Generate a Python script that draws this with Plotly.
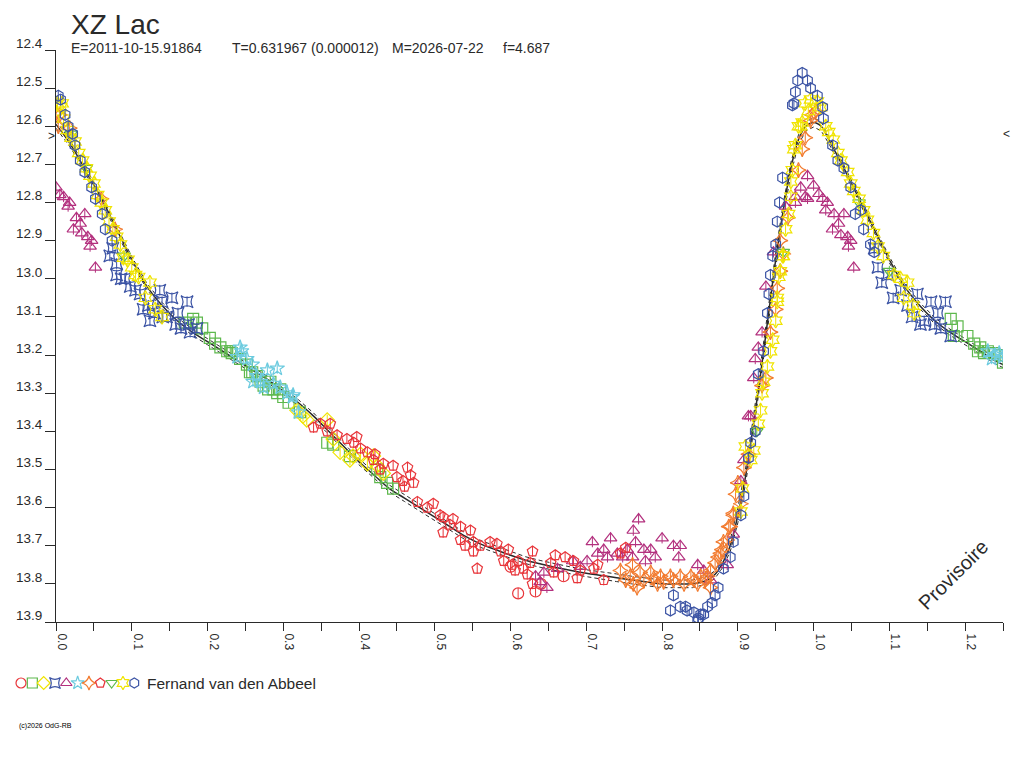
import plotly.graph_objects as go

# light curve of XZ Lac, phase vs V magnitude

fit_phase = [0.00, 0.02, 0.04, 0.06, 0.08, 0.10, 0.12, 0.14, 0.16, 0.18, 0.20, 0.22, 0.24, 0.26,
             0.28, 0.30, 0.32, 0.34, 0.36, 0.38, 0.40, 0.42, 0.44, 0.46, 0.48, 0.50, 0.52, 0.54,
             0.56, 0.58, 0.60, 0.62, 0.64, 0.66, 0.68, 0.70, 0.72, 0.74, 0.76, 0.78, 0.80, 0.82,
             0.84, 0.86, 0.87, 0.88, 0.89, 0.90, 0.91, 0.92, 0.93, 0.94, 0.95, 0.96, 0.97, 0.98,
             0.99, 1.00, 1.01, 1.02, 1.04, 1.06, 1.08, 1.10, 1.12, 1.14, 1.16, 1.18, 1.20, 1.22,
             1.24, 1.25]
fit_mag = [12.595, 12.65, 12.72, 12.79, 12.87, 12.95, 13.02, 13.07, 13.11, 13.14, 13.165, 13.19,
           13.215, 13.24, 13.265, 13.295, 13.325, 13.36, 13.40, 13.44, 13.48, 13.515, 13.55,
           13.575, 13.60, 13.625, 13.65, 13.675, 13.695, 13.71, 13.725, 13.738, 13.748, 13.757,
           13.765, 13.772, 13.778, 13.784, 13.79, 13.795, 13.80, 13.80, 13.80, 13.79, 13.775,
           13.745, 13.70, 13.62, 13.52, 13.39, 13.25, 13.10, 12.95, 12.82, 12.71, 12.635, 12.60,
           12.59, 12.60, 12.635, 12.71, 12.79, 12.87, 12.95, 13.02, 13.07, 13.11, 13.14, 13.165,
           13.19, 13.215, 13.225]
fit_err = [0.010, 0.008, 0.008, 0.008, 0.008, 0.008, 0.008, 0.008, 0.008, 0.008, 0.008, 0.008,
           0.008, 0.008, 0.008, 0.008, 0.008, 0.008, 0.008, 0.008, 0.008, 0.008, 0.009, 0.009,
           0.009, 0.009, 0.009, 0.009, 0.009, 0.009, 0.009, 0.009, 0.009, 0.009, 0.009, 0.009,
           0.010, 0.010, 0.010, 0.010, 0.010, 0.010, 0.010, 0.010, 0.010, 0.012, 0.015, 0.020,
           0.020, 0.020, 0.020, 0.020, 0.020, 0.018, 0.015, 0.012, 0.012, 0.012, 0.012, 0.010,
           0.008, 0.008, 0.008, 0.008, 0.008, 0.008, 0.008, 0.008, 0.008, 0.008, 0.008, 0.008]

circ_red_phase = [0.600, 0.610, 0.633, 0.640, 0.670]
circ_red_mag = [13.755, 13.825, 13.820, 13.800, 13.780]

sq_grn_phase = [0.170, 0.181, 0.186, 0.193, 0.203, 0.210, 0.217, 0.226, 0.230, 0.232, 0.243,
                0.252, 0.256, 0.259, 0.265, 0.270, 0.274, 0.280, 0.283, 0.287, 0.292, 0.296,
                0.300, 0.307, 0.322, 0.358, 0.366, 0.388, 0.424, 0.428, 0.437, 0.445,
                1.181, 1.185, 1.190, 1.203, 1.212, 1.217, 1.220, 1.225, 1.230, 1.238, 1.247, 1.250]
sq_grn_mag = [13.115, 13.105, 13.115, 13.130, 13.155, 13.170, 13.180, 13.190, 13.190, 13.195,
              13.210, 13.225, 13.245, 13.245, 13.255, 13.270, 13.280, 13.290, 13.270, 13.290,
              13.300, 13.290, 13.310, 13.325, 13.350, 13.430, 13.435, 13.465, 13.500, 13.520,
              13.535, 13.550,
              13.105, 13.150, 13.125, 13.150, 13.170, 13.190, 13.180, 13.195, 13.190, 13.195,
              13.200, 13.220]

dia_yel_phase = [0.318, 0.326, 0.331, 0.358, 0.366, 0.375, 0.388, 0.392, 0.402, 0.411, 0.419,
                 0.424, 0.432]
dia_yel_mag = [13.345, 13.360, 13.370, 13.370, 13.420, 13.455, 13.475, 13.465, 13.460, 13.485,
               13.465, 13.490, 13.510]

sqs_blu_phase = [0.071, 0.075, 0.080, 0.080, 0.086, 0.091, 0.098, 0.105, 0.111, 0.115, 0.122,
                 0.124, 0.130, 0.137, 0.140, 0.141, 0.146, 0.153, 0.158, 0.161, 0.165, 0.173,
                 0.175, 0.177, 0.186,
                 1.080, 1.085, 1.090, 1.098, 1.105, 1.115, 1.124, 1.130, 1.137, 1.141, 1.146,
                 1.155, 1.160, 1.164, 1.168, 1.174, 1.181]
sqs_blu_mag = [12.940, 12.920, 12.960, 12.990, 13.000, 13.000, 13.020, 13.030, 13.040, 13.080,
               13.070, 13.110, 13.090, 13.030, 13.060, 13.100, 13.100, 13.050, 13.120, 13.090,
               13.130, 13.060, 13.120, 13.140, 13.130,
               12.920, 12.970, 13.010, 12.990, 13.050, 13.030, 13.070, 13.100, 13.040, 13.120,
               13.110, 13.060, 13.120, 13.090, 13.130, 13.060, 13.150]

tri_mag_phase = [0.000, 0.005, 0.010, 0.016, 0.018, 0.023, 0.027, 0.032, 0.034, 0.038, 0.042,
                 0.045, 0.047, 0.052,
                 0.633, 0.639, 0.644, 0.648, 0.662, 0.682, 0.692, 0.701, 0.708, 0.715, 0.723,
                 0.728, 0.732, 0.741, 0.748, 0.754, 0.761, 0.762, 0.765, 0.769, 0.776, 0.778,
                 0.785, 0.791, 0.800, 0.815, 0.822, 0.824, 0.847, 0.855, 0.864,
                 0.886, 0.894, 0.904, 0.908, 0.914, 0.917, 0.921, 0.923, 0.927, 0.932, 0.937,
                 0.947,
                 0.963, 0.976, 0.976, 0.983, 0.989, 0.992, 0.992, 1.000, 1.007, 1.012, 1.016,
                 1.018, 1.025, 1.027, 1.033, 1.036, 1.040, 1.045, 1.046, 1.049, 1.053]
tri_mag_mag = [12.760, 12.780, 12.785, 12.810, 12.800, 12.870, 12.840, 12.855, 12.880, 12.830,
               12.890, 12.915, 12.900, 12.970,
               13.780, 13.795, 13.770, 13.810, 13.760, 13.740, 13.755, 13.740, 13.690, 13.720,
               13.710, 13.730, 13.680, 13.720, 13.730, 13.710, 13.730, 13.660, 13.690, 13.630,
               13.710, 13.740, 13.710, 13.730, 13.680, 13.700, 13.730, 13.700, 13.750, 13.765,
               13.790,
               13.750, 13.670, 13.530, 13.475, 13.360, 13.360, 13.260, 13.210, 13.180, 13.140,
               13.020, 12.930,
               12.810, 12.785, 12.800, 12.760, 12.785, 12.730, 12.790, 12.755, 12.777, 12.790,
               12.820, 12.800, 12.870, 12.830, 12.855, 12.885, 12.830, 12.890, 12.915, 12.900,
               12.970]

star_cya_phase = [0.239, 0.243, 0.245, 0.252, 0.259, 0.260, 0.265, 0.270, 0.274, 0.279, 0.287,
                  0.292, 0.296, 0.305, 0.312, 0.313, 0.320,
                  1.230, 1.235, 1.240, 1.245, 1.250]
star_cya_mag = [13.205, 13.180, 13.190, 13.210, 13.225, 13.270, 13.255, 13.270, 13.285, 13.240,
                13.275, 13.235, 13.285, 13.300, 13.310, 13.305, 13.350,
                13.190, 13.210, 13.200, 13.195, 13.205]

st4_org_phase = [0.000, 0.003, 0.005, 0.018, 0.060, 0.078,
                 0.745, 0.752, 0.758, 0.761, 0.762, 0.767, 0.771, 0.776, 0.785, 0.789, 0.794,
                 0.798, 0.802, 0.811, 0.815, 0.824, 0.829, 0.838, 0.842, 0.847, 0.851, 0.857,
                 0.860, 0.864, 0.864, 0.870, 0.874, 0.877, 0.879, 0.881, 0.886, 0.888, 0.890,
                 0.894, 0.894, 0.897, 0.900, 0.904, 0.908, 0.914, 0.932, 0.937, 0.943, 0.950,
                 0.952, 0.956, 0.956, 0.960, 0.966, 0.980, 0.985, 0.989, 0.996, 0.998, 1.003]
st4_org_mag = [12.565, 12.600, 12.570, 12.605, 12.790, 12.870,
               13.765, 13.790, 13.780, 13.750, 13.800, 13.810, 13.770, 13.790, 13.770, 13.785,
               13.800, 13.780, 13.795, 13.780, 13.790, 13.780, 13.800, 13.780, 13.790, 13.800,
               13.780, 13.790, 13.780, 13.810, 13.765, 13.745, 13.730, 13.720, 13.710, 13.690,
               13.685, 13.650, 13.650, 13.615, 13.620, 13.565, 13.535, 13.590, 13.495, 13.460,
               13.280, 13.260, 13.140, 13.080, 13.025, 12.980, 12.900, 12.935, 12.840, 12.715,
               12.660, 12.630, 12.585, 12.570, 12.560]

pent_red_phase = [0.340, 0.349, 0.358, 0.362, 0.371, 0.384, 0.393, 0.397, 0.402, 0.411, 0.419,
                  0.421, 0.428, 0.432, 0.445, 0.450, 0.458, 0.460, 0.464, 0.468, 0.472, 0.477,
                  0.490, 0.498, 0.507, 0.511, 0.511, 0.520, 0.524, 0.534, 0.534, 0.540, 0.547,
                  0.551, 0.551, 0.556, 0.560, 0.573, 0.582, 0.587, 0.591, 0.597, 0.602, 0.606,
                  0.610, 0.617, 0.622, 0.626, 0.629, 0.629, 0.653, 0.657, 0.659, 0.672, 0.683,
                  0.688, 0.692, 0.710, 0.715, 0.723, 0.745, 0.752]
pent_red_mag = [13.390, 13.380, 13.400, 13.380, 13.410, 13.420, 13.430, 13.415, 13.445, 13.455,
                13.475, 13.460, 13.500, 13.485, 13.490, 13.520, 13.530, 13.545, 13.495, 13.515,
                13.535, 13.585, 13.600, 13.590, 13.620, 13.625, 13.665, 13.645, 13.630, 13.650,
                13.685, 13.700, 13.660, 13.715, 13.690, 13.760, 13.700, 13.690, 13.695, 13.715,
                13.740, 13.710, 13.750, 13.765, 13.740, 13.760, 13.775, 13.745, 13.715, 13.800,
                13.745, 13.770, 13.725, 13.730, 13.740, 13.785, 13.765, 13.760, 13.750, 13.790,
                13.720, 13.705]

trd_grn_phase = [0.020, 0.040, 0.090, 0.925, 0.960, 1.060, 1.100]
trd_grn_mag = [12.620, 12.710, 12.940, 13.400, 12.930, 12.800, 12.980]

hxg_yel_phase = [0.002, 0.006, 0.008, 0.010, 0.015, 0.020, 0.025, 0.030, 0.035, 0.040, 0.045,
                 0.050, 0.055, 0.060, 0.065, 0.070, 0.075, 0.080, 0.085, 0.089, 0.095, 0.100,
                 0.105, 0.109, 0.118, 0.124, 0.131, 0.140,
                 0.904, 0.906, 0.910, 0.917, 0.921, 0.927, 0.930, 0.932, 0.934, 0.939, 0.943,
                 0.946, 0.950, 0.952, 0.952, 0.954, 0.956, 0.959, 0.960, 0.963, 0.967, 0.970,
                 0.970, 0.972, 0.974, 0.976,
                 0.980, 0.983, 0.985, 0.989, 0.993, 0.996, 1.005, 1.009, 1.016, 1.020, 1.026,
                 1.032, 1.036, 1.045, 1.049, 1.053, 1.060, 1.066, 1.071, 1.079, 1.085, 1.092,
                 1.106, 1.115, 1.119, 1.124, 1.131, 1.133]
hxg_yel_mag = [12.540, 12.550, 12.540, 12.580, 12.610, 12.630, 12.640, 12.670, 12.690, 12.710,
               12.730, 12.750, 12.780, 12.800, 12.820, 12.850, 12.870, 12.890, 12.910, 12.945,
               12.950, 12.970, 12.990, 12.995, 13.050, 13.010, 13.080, 13.100,
               13.610, 13.550, 13.440, 13.475, 13.450, 13.380, 13.345, 13.300, 13.270, 13.230,
               13.190, 13.160, 13.110, 13.060, 13.050, 12.995, 12.980, 12.940, 12.940, 12.870,
               12.830, 12.785, 12.745, 12.715, 12.660, 12.650,
               12.600, 12.600, 12.590, 12.540, 12.560, 12.530, 12.535, 12.550, 12.600, 12.615,
               12.635, 12.670, 12.690, 12.720, 12.750, 12.770, 12.790, 12.820, 12.845, 12.880,
               12.915, 12.940, 12.990, 13.000, 13.050, 13.010, 13.070, 13.090]

hex_blu_phase = [0.003, 0.006, 0.012, 0.016, 0.022, 0.025, 0.032, 0.038, 0.047, 0.052, 0.061,
                 0.065, 0.074,
                 0.811, 0.815, 0.824, 0.831, 0.833, 0.842, 0.847, 0.848, 0.851, 0.855, 0.860,
                 0.866, 0.870, 0.874, 0.881, 0.890, 0.894, 0.904, 0.908, 0.914, 0.917, 0.923,
                 0.927, 0.934, 0.939, 0.941, 0.943, 0.946, 0.950, 0.952, 0.955, 0.959,
                 0.972, 0.974, 0.976, 0.979, 0.985, 0.992, 0.996, 1.005, 1.012, 1.013, 1.025,
                 1.032, 1.040, 1.049, 1.055, 1.062, 1.066, 1.075, 1.080]
hex_blu_mag = [12.520, 12.530, 12.570, 12.600, 12.620, 12.650, 12.690, 12.720, 12.760, 12.790,
               12.830, 12.870, 12.900,
               13.870, 13.830, 13.860, 13.860, 13.870, 13.875, 13.895, 13.890, 13.880, 13.880,
               13.860, 13.850, 13.830, 13.810, 13.760, 13.730, 13.690, 13.620, 13.570, 13.470,
               13.430, 13.400, 13.250, 13.190, 13.090, 13.040, 12.990, 12.940, 12.910, 12.850,
               12.800, 12.735,
               12.545, 12.540, 12.510, 12.480, 12.460, 12.480, 12.500, 12.520, 12.550, 12.580,
               12.650, 12.690, 12.710, 12.760, 12.830, 12.820, 12.870, 12.910, 12.930]

x_tick_vals = [0.00, 0.05, 0.10, 0.15, 0.20, 0.25, 0.30, 0.35, 0.40, 0.45, 0.50, 0.55, 0.60,
               0.65, 0.70, 0.75, 0.80, 0.85, 0.90, 0.95, 1.00, 1.05, 1.10, 1.15, 1.20, 1.25]
x_tick_text = ["0.0", "", "0.1", "", "0.2", "", "0.3", "", "0.4", "", "0.5", "", "0.6",
               "", "0.7", "", "0.8", "", "0.9", "", "1.0", "", "1.1", "", "1.2", ""]
y_tick_vals = [12.4, 12.5, 12.6, 12.7, 12.8, 12.9, 13.0, 13.1, 13.2, 13.3, 13.4, 13.5, 13.6,
               13.7, 13.8, 13.9]
y_tick_text = ["12.4", "12.5", "12.6", "12.7", "12.8", "12.9", "13.0", "13.1", "13.2", "13.3",
               "13.4", "13.5", "13.6", "13.7", "13.8", "13.9"]

subtitle_parts = ["E=2011-10-15.91864", "T=0.631967 (0.000012)", "M=2026-07-22", "f=4.687"]
subtitle_left_px = [61, 222, 382, 493]

series = [
    (circ_red_phase, circ_red_mag, "circle-open", "#e8353a"),
    (sq_grn_phase, sq_grn_mag, "square-open", "#5db84c"),
    (dia_yel_phase, dia_yel_mag, "diamond-open", "#f0e400"),
    (sqs_blu_phase, sqs_blu_mag, "star-square-open", "#3b53a4"),
    (tri_mag_phase, tri_mag_mag, "triangle-up-open", "#b3307e"),
    (star_cya_phase, star_cya_mag, "star-open", "#6ccbdf"),
    (st4_org_phase, st4_org_mag, "star-diamond-open", "#f27a2e"),
    (pent_red_phase, pent_red_mag, "pentagon-open", "#e8353a"),
    (trd_grn_phase, trd_grn_mag, "triangle-down-open", "#5db84c"),
    (hxg_yel_phase, hxg_yel_mag, "hexagram-open", "#f0e400"),
    (hex_blu_phase, hex_blu_mag, "hexagon-open", "#3b53a4"),
]

FONT = "Liberation Sans, Arial, sans-serif"
INK = "#2a2a2a"
PW, PH = 993, 698   # plotting area in px (page body adds 8 px on top/left)

fig = go.Figure()

# fitted curve with its two dashed bounds
fig.add_trace(go.Scatter(x=fit_phase, y=[m - e for m, e in zip(fit_mag, fit_err)], mode="lines",
                         line=dict(color=INK, width=1, dash="4px,3px"), showlegend=False))
fig.add_trace(go.Scatter(x=fit_phase, y=[m + e for m, e in zip(fit_mag, fit_err)], mode="lines",
                         line=dict(color=INK, width=1, dash="4px,3px"), showlegend=False))
fig.add_trace(go.Scatter(x=fit_phase, y=fit_mag, mode="lines", line=dict(color=INK, width=1.5),
                         line_shape="spline", showlegend=False))

for i, (ph, mg, sym, col) in enumerate(series):
    fig.add_trace(go.Scatter(
        x=ph, y=mg, mode="markers", showlegend=False,
        marker=dict(symbol=sym, size=11, color=col, line=dict(width=1.2, color=col)),
        error_y=dict(type="constant", value=0.014, thickness=1, width=0, color=col),
    ))
    # the symbol row under the plot
    fig.add_trace(go.Scatter(
        x=[i], y=[0], xaxis="x2", yaxis="y2", mode="markers", showlegend=False,
        marker=dict(symbol=sym, size=10, color=col, line=dict(width=1.2, color=col)),
    ))

fig.update_layout(
    width=1016, height=760,
    margin=dict(l=2, r=21, t=42, b=20),
    paper_bgcolor="white", plot_bgcolor="white",
    font=dict(family=FONT, color=INK, size=13),
    xaxis=dict(domain=[46 / PW, 1], range=[0, 1.25], showgrid=False, zeroline=False,
               showline=True, linecolor=INK, linewidth=1, mirror=False,
               tickmode="array", tickvals=x_tick_vals, ticktext=x_tick_text,
               ticks="outside", ticklen=8, tickcolor=INK, tickangle=90,
               ticklabelshift=6, tickfont=dict(size=12)),
    yaxis=dict(domain=[126 / PH, 1], range=[13.9, 12.4], showgrid=False, zeroline=False,
               showline=True, linecolor=INK, linewidth=1,
               tickmode="array", tickvals=y_tick_vals, ticktext=y_tick_text,
               ticks="outside", ticklen=10, tickcolor=INK, ticklabelshift=7,
               ticklabelstandoff=0, tickfont=dict(size=13.5)),
    xaxis2=dict(domain=[0, 1], range=[-0.971, 86.67], visible=False, anchor="y2"),
    yaxis2=dict(domain=[55 / PH, 75 / PH], range=[-1, 1], visible=False, anchor="x2"),
)

# star name as a plain text block at the top edge
fig.add_annotation(text="XZ Lac", xref="paper", yref="paper", x=(62 - 2) / PW,
                   y=1 + 42 / PH, xanchor="left", yanchor="top", borderpad=0,
                   showarrow=False, font=dict(size=28))

for part, px in zip(subtitle_parts, subtitle_left_px):
    fig.add_annotation(text=part, xref="paper", yref="paper", x=(px - 2) / PW, y=1 + 2 / PH,
                       xanchor="left", yanchor="middle", showarrow=False, font=dict(size=14))

fig.add_annotation(text="Provisoire", xref="paper", yref="paper", x=943 / PW, y=173 / PH,
                   xanchor="center", yanchor="middle", textangle=-45, showarrow=False,
                   font=dict(size=20))
fig.add_annotation(text=">", xref="paper", yref="y", x=41 / PW, y=12.625, xanchor="center",
                   yanchor="middle", showarrow=False, font=dict(size=12))
fig.add_annotation(text="<", xref="paper", yref="y", x=997 / PW, y=12.62, xanchor="center",
                   yanchor="middle", showarrow=False, font=dict(size=12))
fig.add_annotation(text="Fernand van den Abbeel", xref="paper", yref="paper", x=135 / PW,
                   y=65 / PH, xanchor="left", yanchor="middle", showarrow=False,
                   font=dict(size=15.5))
fig.add_annotation(text="(c)2026 OdG-RB", xref="paper", yref="paper", x=7 / PW, y=22 / PH,
                   xanchor="left", yanchor="middle", showarrow=False,
                   font=dict(size=7, color="#000000"))

fig.write_html("out.html")
